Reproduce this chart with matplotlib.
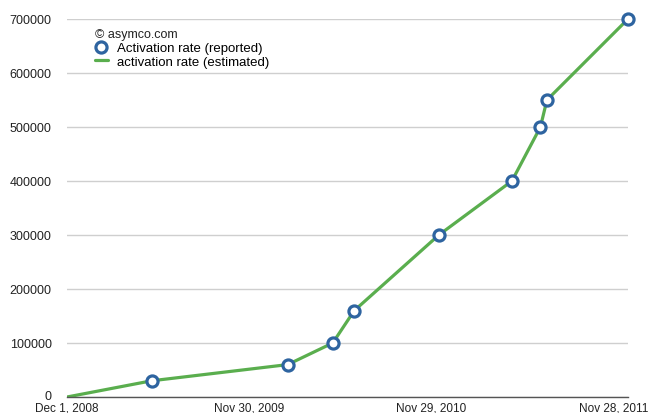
"""
Android activations per day, reported vs estimated (asymco chart)
"""
import datetime as dt
import matplotlib
matplotlib.use("Agg")
import matplotlib.pyplot as plt
import matplotlib.dates as mdates
import matplotlib.transforms as mtransforms

#########################################################
# Data
#########################################################

# start of the estimated line
start_date = dt.date(2008, 12, 1)
start_value = 0

# reported activation rate (per day)
reported_dates = [
    dt.date(2009, 5, 19),
    dt.date(2010, 2, 15),
    dt.date(2010, 5, 16),
    dt.date(2010, 6, 28),
    dt.date(2010, 12, 14),
    dt.date(2011, 5, 9),
    dt.date(2011, 7, 5),
    dt.date(2011, 7, 18),
    dt.date(2011, 12, 27),
]
reported_values = [30000, 60000, 100000, 160000, 300000,
                   400000, 500000, 550000, 700000]

# estimated line goes through the start and the reported points
estimated_dates = [start_date] + reported_dates
estimated_values = [start_value] + reported_values

tick_dates = [dt.date(2008, 12, 1), dt.date(2009, 11, 30),
              dt.date(2010, 11, 29), dt.date(2011, 11, 28)]
tick_labels = ["Dec 1, 2008", "Nov 30, 2009", "Nov 29, 2010", "Nov 28, 2011"]
y_ticks = [0, 100000, 200000, 300000, 400000, 500000, 600000, 700000]

#########################################################
# Chart
#########################################################

COLOR_LINE = "#5aae4e"
COLOR_MARK = "#2e64a0"
COLOR_GRID = "#cfcfcf"
COLOR_AXIS = "#555555"

plt.rcParams["font.family"] = ["Liberation Sans", "DejaVu Sans"]

fig = plt.figure(figsize=(6.48, 4.14), dpi=100)
ax = fig.add_axes([67 / 648, 1 - 398 / 414, 561 / 648, 378 / 414])

ax.plot(estimated_dates, estimated_values, color=COLOR_LINE, linewidth=2.3,
        label="activation rate (estimated)", zorder=3, solid_capstyle="round")
ax.plot(reported_dates, reported_values, linestyle="none", marker="o",
        markersize=8, markerfacecolor="white", markeredgecolor=COLOR_MARK,
        markeredgewidth=2.3, label="Activation rate (reported)", zorder=4,
        clip_on=False)

ax.set_xlim(start_date, reported_dates[-1])
ax.set_ylim(0, 700000)
ax.set_yticks(y_ticks)
ax.set_yticklabels([str(v) for v in y_ticks])
ax.set_xticks([mdates.date2num(d) for d in tick_dates])
ax.set_xticklabels(tick_labels)

ax.grid(axis="y", color=COLOR_GRID, linewidth=1)
ax.set_axisbelow(True)
for side in ["top", "right", "left"]:
    ax.spines[side].set_visible(False)
ax.spines["bottom"].set_color(COLOR_AXIS)
ax.spines["bottom"].set_linewidth(1)
ax.spines["bottom"].set_zorder(5)
ax.tick_params(axis="y", length=0, pad=11, labelsize=9, colors="#222222")
ax.tick_params(axis="x", length=0, pad=3, labelsize=8.5, colors="#222222")

# nudge the "0" label up a bit so it clears the first date label
zero_label = ax.get_yticklabels()[0]
zero_label.set_transform(zero_label.get_transform() +
                         mtransforms.ScaledTranslation(0, 2 / 100, fig.dpi_scale_trans))

# copyright note and legend
ax.text(0.05, (398 - 35) / 378, "© asymco.com", transform=ax.transAxes,
        fontsize=9, va="center", ha="left", color="#222222")
handles, labels = ax.get_legend_handles_labels()
ax.legend(handles[::-1], labels[::-1],
          loc="upper left", bbox_to_anchor=(0.05, (398 - 43) / 378),
          frameon=False, fontsize=9.5, handlelength=0.95, handletextpad=0.75,
          labelspacing=0.1, borderpad=0, borderaxespad=0)

fig.savefig("out.png", dpi=100)
